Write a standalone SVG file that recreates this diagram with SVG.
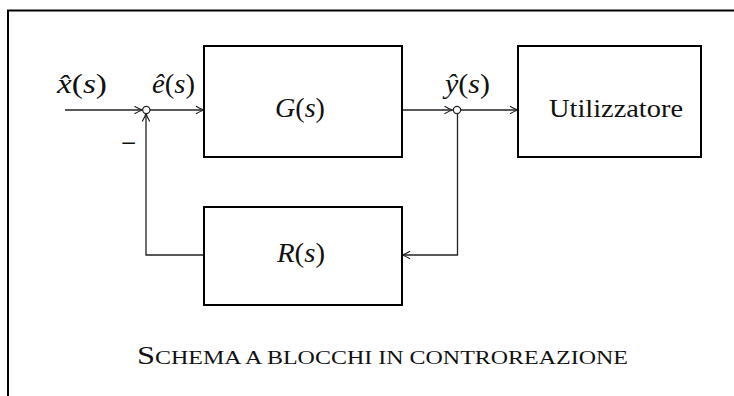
<svg xmlns="http://www.w3.org/2000/svg" width="734" height="396" viewBox="0 0 734 396">
  <style>
    .frame { fill: none; stroke: #000; stroke-width: 2; }
    .box { fill: #fff; stroke: #000; stroke-width: 2; }
    .wire { fill: none; stroke: #222; stroke-width: 1.3; }
    .node { fill: #fff; stroke: #222; stroke-width: 1.2; }
    .math { font-family: "Liberation Serif", "DejaVu Serif", serif; font-size: 27px; fill: #111; }
    .it { font-style: italic; }
    .txt { font-family: "Liberation Serif", "DejaVu Serif", serif; font-size: 25px; fill: #111; }
    .cap { font-family: "Liberation Serif", "DejaVu Serif", serif; fill: #111; }
  </style>
  <defs>
    <marker id="arr" markerWidth="12" markerHeight="10" refX="11" refY="5" orient="auto" markerUnits="userSpaceOnUse">
      <path d="M3 1.2 Q8 4.2 11 5 Q8 5.8 3 8.8" fill="none" stroke="#222" stroke-width="1.2"/>
    </marker>
  </defs>

  <!-- outer frame -->
  <path class="frame" d="M8 396 V10.5 H734"/>

  <!-- connectors -->
  <g id="connectors">
    <line class="wire" x1="65" y1="110" x2="142.5" y2="110" marker-end="url(#arr)"/>
    <line class="wire" x1="150" y1="110" x2="204" y2="110" marker-end="url(#arr)"/>
    <line class="wire" x1="402" y1="110" x2="452.5" y2="110" marker-end="url(#arr)"/>
    <line class="wire" x1="461" y1="110" x2="518" y2="110" marker-end="url(#arr)"/>
    <polyline class="wire" points="457.5,113.5 457.5,255 402,255" marker-end="url(#arr)"/>
    <polyline class="wire" points="204,255 146,255 146,113.5" marker-end="url(#arr)"/>
  </g>

  <!-- summing junction -->
  <g id="sum">
    <circle class="node" cx="146.3" cy="110" r="3.6"/>
    <text class="math" x="121" y="152" style="font-size:27px">−</text>
  </g>

  <!-- branch point -->
  <g id="branch">
    <circle class="node" cx="457" cy="110" r="3.6"/>
  </g>

  <!-- signal labels -->
  <g id="label-x">
    <text class="math" x="57" y="93" textLength="50" lengthAdjust="spacingAndGlyphs"><tspan class="it">x̂</tspan>(<tspan class="it">s</tspan>)</text>
  </g>
  <g id="label-e">
    <text class="math" x="152" y="93" textLength="43" lengthAdjust="spacingAndGlyphs"><tspan class="it">ê</tspan>(<tspan class="it">s</tspan>)</text>
  </g>
  <g id="label-y">
    <text class="math" x="445" y="93" textLength="45" lengthAdjust="spacingAndGlyphs"><tspan class="it">ŷ</tspan>(<tspan class="it">s</tspan>)</text>
  </g>

  <!-- plant block -->
  <g id="G">
    <rect class="box" x="204" y="46" width="198" height="111"/>
    <text class="math" x="275" y="117" textLength="50" lengthAdjust="spacingAndGlyphs"><tspan class="it">G</tspan>(<tspan class="it">s</tspan>)</text>
  </g>

  <!-- user block -->
  <g id="user">
    <rect class="box" x="518" y="46" width="183" height="111"/>
    <text class="txt" x="549" y="117" textLength="134" lengthAdjust="spacingAndGlyphs">Utilizzatore</text>
  </g>

  <!-- feedback block -->
  <g id="R">
    <rect class="box" x="204" y="207" width="198" height="98"/>
    <text class="math" x="277" y="262" textLength="48" lengthAdjust="spacingAndGlyphs"><tspan class="it">R</tspan>(<tspan class="it">s</tspan>)</text>
  </g>

  <!-- caption -->
  <g id="caption">
    <text class="cap" x="137" y="364" textLength="491" lengthAdjust="spacingAndGlyphs"><tspan style="font-size:25px">S</tspan><tspan style="font-size:18.5px">CHEMA  A  BLOCCHI  IN  CONTROREAZIONE</tspan></text>
  </g>
</svg>
